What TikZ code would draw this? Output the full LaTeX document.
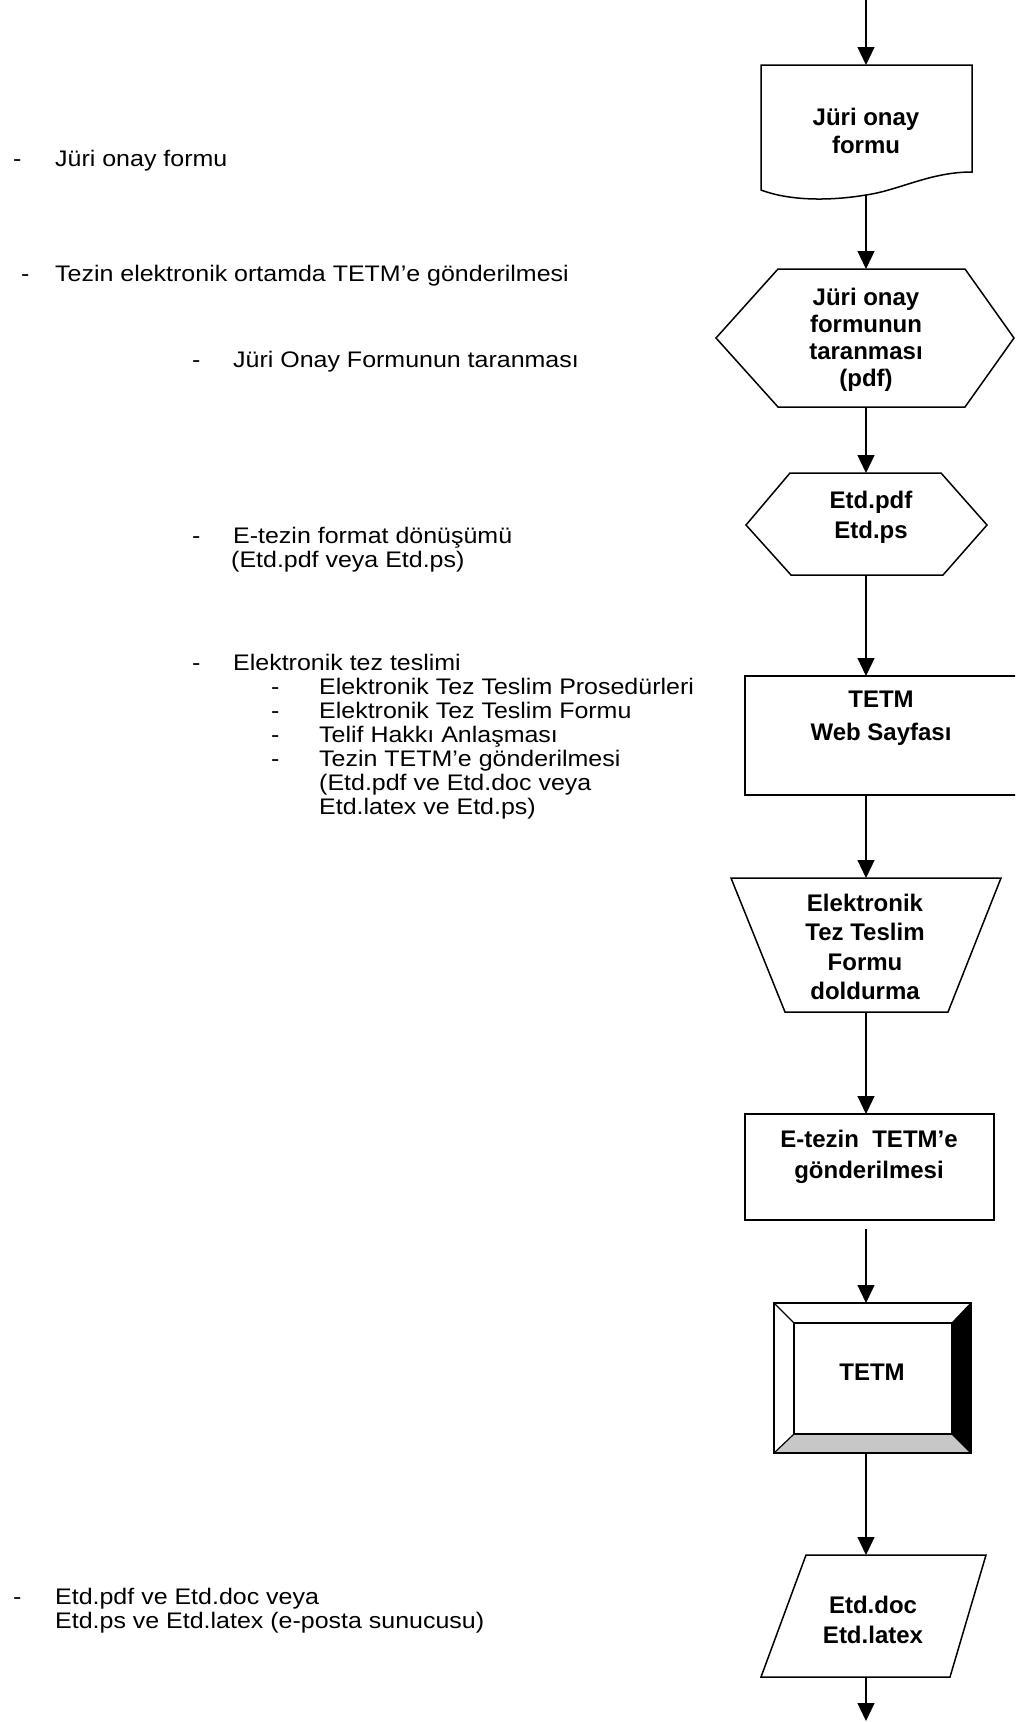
\documentclass[tikz,border=0pt]{standalone}
\usepackage{fontspec}
\setmainfont{Liberation Sans}
\newfontfamily\leftfam{Liberation Sans}[FakeStretch=1.11]
\usetikzlibrary{arrows.meta,calc}
\begin{document}
\begin{tikzpicture}[x=1pt,y=-1pt,
  shp/.style={draw=black,line width=1.5pt,fill=white,line join=miter},
  conn/.style={draw=black,line width=1.2pt,-{Triangle[width=17pt,length=18pt]}},
  ltext/.style={anchor=north west,inner sep=0pt,align=left,font=\leftfam\fontsize{22.5}{24}\selectfont},
  btext/.style={anchor=north,inner sep=0pt,align=center,font=\fontsize{24}{29}\selectfont\bfseries}]

\useasboundingbox (0,0) rectangle (1015,1722);
\clip (0,0) rectangle (1015,1722);
\fill[white] (0,0) rectangle (1015,1722);

% ---------- left column texts ----------
\node[ltext] (t1) at (13,150) {\makebox[42pt][l]{-}Jüri onay formu};
\node[ltext] (t2) at (21,265) {\makebox[34pt][l]{-}Tezin elektronik ortamda TETM’e gönderilmesi};
\node[ltext] (t3) at (192,351) {\makebox[41pt][l]{-}Jüri Onay Formunun taranması};
\node[ltext] (t4) at (192,527) {\makebox[41pt][l]{-}E-tezin format dönüşümü\\
  \makebox[39pt][l]{}(Etd.pdf veya Etd.ps)};
\node[ltext] (t5) at (192,654) {\makebox[41pt][l]{-}Elektronik tez teslimi\\
  \makebox[79pt][l]{}\makebox[48pt][l]{-}Elektronik Tez Teslim Prosedürleri\\
  \makebox[79pt][l]{}\makebox[48pt][l]{-}Elektronik Tez Teslim Formu\\
  \makebox[79pt][l]{}\makebox[48pt][l]{-}Telif Hakkı Anlaşması\\
  \makebox[79pt][l]{}\makebox[48pt][l]{-}Tezin TETM’e gönderilmesi\\
  \makebox[127pt][l]{}(Etd.pdf ve Etd.doc veya\\
  \makebox[127pt][l]{}Etd.latex ve Etd.ps)};
\node[ltext] (t6) at (13,1588) {\makebox[42pt][l]{-}Etd.pdf ve Etd.doc veya\\
  \makebox[42pt][l]{}Etd.ps ve Etd.latex (e-posta sunucusu)};

% ---------- flowchart shapes ----------
% document
\draw[shp] (761,65) -- (972,65) -- (972,172)
  .. controls (930,172) and (900,190) .. (866,195)
  .. controls (830,201) and (790,201) .. (761,190) -- cycle;
\coordinate (start) at (866,0);
\coordinate (doc-top) at (866,65);
\coordinate (doc-bot) at (866,195);
\node[btext,font=\fontsize{24}{28}\selectfont\bfseries] (doc) at (866,108) {Jüri onay\\formu};

% hexagon 1
\draw[shp] (778,269) -- (965,269) -- (1014,338) -- (965,407) -- (778,407) -- (716,338) -- cycle;
\coordinate (hex1-top) at (866,269);
\coordinate (hex1-bot) at (866,407);
\node[btext,font=\fontsize{24}{27}\selectfont\bfseries] (hex1) at (866,288) {Jüri onay\\formunun\\taranması\\(pdf)};

% hexagon 2
\draw[shp] (790,473) -- (941,473) -- (987,525) -- (943,575) -- (791,575) -- (746,525) -- cycle;
\coordinate (hex2-top) at (866,473);
\coordinate (hex2-bot) at (866,575);
\node[btext,font=\fontsize{24}{30}\selectfont\bfseries] (hex2) at (871,491) {Etd.pdf\\Etd.ps};

% web page rectangle
\draw[shp] (745,676) rectangle (1020,795);
\coordinate (web-top) at (866,676);
\coordinate (web-bot) at (866,795);
\node[btext,font=\fontsize{24}{33}\selectfont\bfseries] (web) at (881,691) {TETM\\Web Sayfası};

% trapezium
\draw[shp] (731,878) -- (1001,878) -- (948,1012) -- (785,1012) -- cycle;
\coordinate (trap-top) at (866,878);
\coordinate (trap-bot) at (866,1012);
\node[btext,font=\fontsize{24}{29.3}\selectfont\bfseries] (trap) at (865,894) {Elektronik\\Tez Teslim\\Formu\\doldurma};

% E-tezin rectangle
\draw[shp] (745,1114) rectangle (994,1220);
\coordinate (etz-top) at (866,1114);
\coordinate (etz-bot) at (866,1220);
\node[btext,font=\fontsize{24}{31}\selectfont\bfseries] (etz) at (869,1130) {E-tezin\ \ TETM’e\\gönderilmesi};

% bevel box
\fill[white] (774,1303) -- (971,1303) -- (952,1323) -- (794,1323) -- cycle;
\fill[white] (774,1303) -- (794,1323) -- (794,1434) -- (774,1453) -- cycle;
\fill[black] (971,1303) -- (971,1453) -- (952,1434) -- (952,1323) -- cycle;
\fill[black!22] (774,1453) -- (971,1453) -- (952,1434) -- (794,1434) -- cycle;
\draw[line width=1.2pt] (774,1303) -- (794,1323) (971,1303) -- (952,1323)
  (774,1453) -- (794,1434) (971,1453) -- (952,1434);
\draw[line width=1.5pt] (794,1323) rectangle (952,1434);
\draw[line width=1.5pt] (774,1303) rectangle (971,1453);
\coordinate (tetm-top) at (866,1303);
\coordinate (tetm-bot) at (866,1453);
\node[btext] (tetm) at (872,1364) {TETM};

% parallelogram
\draw[shp] (806,1555) -- (986,1555) -- (950,1677) -- (761,1677) -- cycle;
\coordinate (para-top) at (866,1555);
\coordinate (para-bot) at (866,1677);
\coordinate (end) at (866,1721);
\node[btext,font=\fontsize{24}{30}\selectfont\bfseries] (para) at (873,1596) {Etd.doc\\Etd.latex};

% ---------- connectors ----------
\draw[conn] (start) -- (doc-top);
\draw[conn] (doc-bot) -- (hex1-top);
\draw[conn] (hex1-bot) -- (hex2-top);
\draw[conn] (hex2-bot) -- (web-top);
\draw[conn] (web-bot) -- (trap-top);
\draw[conn] (trap-bot) -- (etz-top);
\draw[conn,shorten <=9pt] (etz-bot) -- (tetm-top);
\draw[conn] (tetm-bot) -- (para-top);
\draw[conn] (para-bot) -- (end);
\end{tikzpicture}
\end{document}
